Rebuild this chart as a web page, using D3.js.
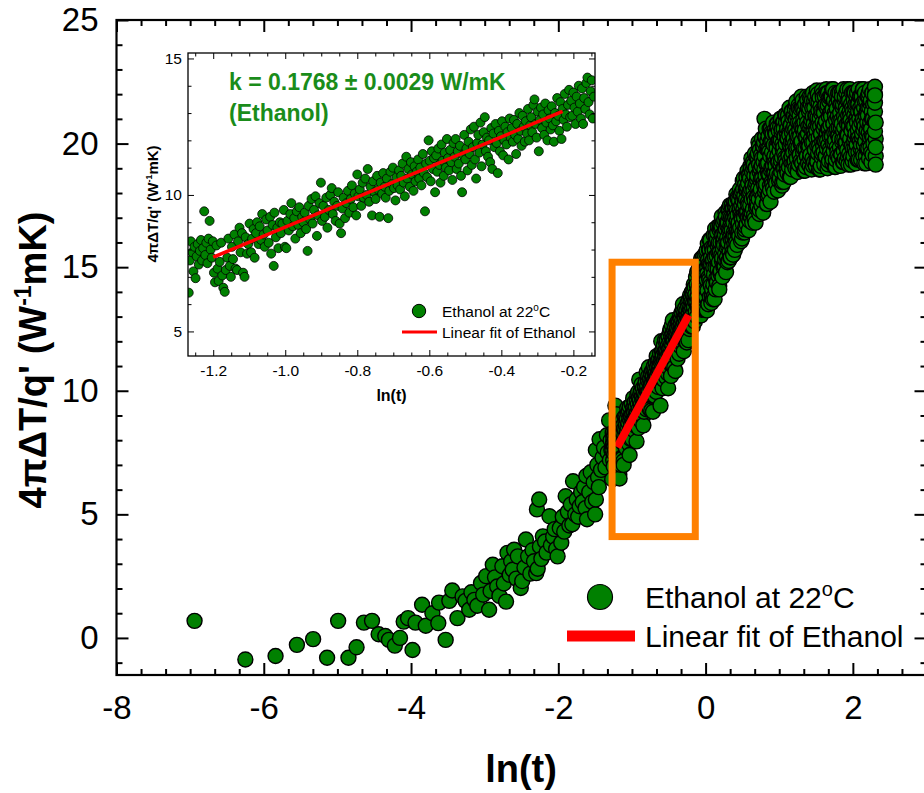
<!DOCTYPE html>
<html>
<head>
<meta charset="utf-8">
<script src="https://cdn.jsdelivr.net/npm/d3@7"></script>
<style>
  body { margin: 0; background: #fff; }
  svg { display: block; font-family: "Liberation Sans", Arial, sans-serif; }
</style>
</head>
<body>
<div id="chart"></div>
<script>
// ln(t) vs 4*pi*dT/q' for ethanol at 22 C
const earlyPts = [
  [-6.94,0.69],[-6.25,-0.87],[-5.84,-0.73],[-5.55,-0.28],[-5.33,-0.05],[-5.14,-0.8],[-4.99,0.69],[-4.85,-0.8],
  [-4.74,-0.38],[-4.64,0.62],[-4.53,0.69],[-4.44,0.15],[-4.35,0.08],[-4.3,-0.08],[-4.22,-0.31],[-4.15,0.0],
  [-4.1,0.66],[-4.04,0.8],[-3.98,-0.49],[-3.94,0.62],[-3.85,1.34],[-3.8,0.49],[-3.71,1.0],[-3.63,0.6],
  [-3.62,1.43],[-3.53,-0.08],[-3.48,1.5],[-3.44,1.92],[-3.37,0.8],[-3.3,1.68],[-3.26,1.5],[-3.21,1.14],
  [-3.18,1.85],[-3.14,1.54],[-3.1,1.3],[-3.05,2.22],[-3.02,1.75],[-2.98,2.5],[-2.94,1.14],[-2.92,1.9],
  [-2.89,2.96],[-2.86,2.45],[-2.83,2.08],[-2.8,1.7],[-2.76,2.9],[-2.74,2.2],[-2.71,1.47],[-2.69,3.44],
  [-2.66,2.55],[-2.64,3.1],[-2.62,2.76],[-2.6,3.57],[-2.57,2.4],[-2.55,3.3],[-2.51,2.02],[-2.49,2.3],
  [-2.46,2.85],[-2.44,3.98],[-2.41,3.3],[-2.38,2.6],[-2.35,3.55],[-2.33,3.1],[-2.3,2.62],[-2.29,5.2],
  [-2.28,2.8],[-2.26,5.6],[-2.25,3.7],[-2.23,3.2],[-2.21,4.11],[-2.18,3.9],[-2.16,3.45],[-2.12,4.92],
  [-2.1,3.75],[-2.07,4.1],[-2.05,4.4],[-2.03,3.6],[-2.01,3.3],[-1.98,4.45],[-1.96,3.85],[-1.94,4.9],
  [-1.92,4.3],[-1.9,5.73],[-1.87,5.1],[-1.85,4.55],[-1.83,5.4],[-1.81,4.6],[-1.8,6.34],[-1.77,5.0],
  [-1.75,5.6],[-1.73,4.9],[-1.71,5.33],[-1.69,5.9],[-1.67,5.5],[-1.65,6.1],[-1.63,5.25],[-1.62,6.55],
  [-1.61,4.8],[-1.58,5.9],[-1.56,6.7],[-1.54,5.5],[-1.52,6.3],[-1.5,5.0],[-1.49,5.6],[-1.49,7.6],
  [-1.47,7.0],[-1.46,6.5],[-1.45,6.1],[-1.44,8.04],[-1.42,6.8],[-1.4,7.3],[-1.38,7.7],[-1.36,6.9],
  [-1.34,8.2],[-1.33,7.5],[-1.31,8.8],[-1.3,7.2],[-1.29,8.0],[-1.28,7.6]
];

// the fitted window (also the inset)
const fitRangePts = [
  [-1.268,6.42],[-1.265,7.6],[-1.262,8.3],[-1.258,7.9],[-1.255,7.2],[-1.252,8.1],[-1.249,6.95],[-1.246,7.75],
  [-1.243,8.2],[-1.24,7.45],[-1.237,7.95],[-1.234,8.35],[-1.231,7.6],[-1.228,8.05],[-1.225,9.4],[-1.222,7.8],
  [-1.219,8.25],[-1.216,7.5],[-1.213,8.4],[-1.21,9.05],[-1.207,8.0],[-1.204,7.7],[-1.201,8.3],
  [-1.198,7.15],[-1.195,6.8],[-1.191,8.15],[-1.188,7.3],[-1.185,6.85],[-1.182,7.55],[-1.178,8.25],[-1.175,7.05],
  [-1.172,6.6],[-1.168,6.45],[-1.165,7.25],[-1.161,7.7],[-1.158,8.4],[-1.154,7.4],[-1.151,7.0],
  [-1.148,8.1],[-1.145,7.65],[-1.141,8.55],[-1.138,7.3],[-1.134,7.25],[-1.131,8.3],[-1.127,8.8],[-1.124,7.9],
  [-1.12,8.6],[-1.117,7.15],[-1.113,7.0],[-1.11,8.45],[-1.106,7.85],[-1.103,8.2],
  [-1.099,8.95],[-1.095,7.9],[-1.092,8.4],[-1.088,8.75],[-1.085,7.7],[-1.081,8.6],[-1.078,9.0],[-1.074,8.2],
  [-1.071,8.85],[-1.067,8.35],[-1.064,9.3],[-1.06,8.55],[-1.057,8.1],[-1.053,9.1],
  [-1.049,8.7],[-1.046,8.25],[-1.042,9.2],[-1.039,7.85],[-1.035,8.9],[-1.032,7.4],[-1.03,9.35],[-1.026,8.45],
  [-1.022,8.8],[-1.019,8.05],[-1.015,9.0],[-1.012,8.6],[-1.008,8.95],[-1.004,9.45],[-1.001,8.1],
  [-0.997,8.05],[-0.994,9.05],[-0.99,8.7],[-0.986,9.3],[-0.983,9.7],[-0.979,8.85],[-0.975,9.15],[-0.972,8.4],
  [-0.968,9.4],[-0.964,8.9],[-0.961,9.55],[-0.957,8.6],[-0.953,9.2],[-0.95,9.0],
  [-0.946,9.35],[-0.942,8.75],[-0.938,7.95],[-0.935,9.6],[-0.931,9.1],[-0.927,9.85],[-0.924,8.95],[-0.92,9.45],
  [-0.916,9.95],[-0.912,8.5],[-0.909,9.25],[-0.905,9.7],[-0.901,10.45],[-0.898,9.05],
  [-0.894,9.6],[-0.89,9.2],[-0.886,9.9],[-0.883,8.8],[-0.879,9.45],[-0.875,10.0],[-0.871,10.25],[-0.868,9.3],
  [-0.864,9.75],[-0.86,9.05],[-0.856,9.6],[-0.853,10.1],[-0.849,8.95],[-0.845,8.6],[-0.841,9.5],
  [-0.838,9.9],[-0.834,9.15],[-0.83,9.7],[-0.826,10.15],[-0.822,9.35],[-0.818,9.85],[-0.815,10.35],[-0.811,9.55],
  [-0.807,10.05],[-0.803,9.25],[-0.8,10.75],[-0.797,9.95],
  [-0.793,10.2],[-0.789,9.6],[-0.785,10.45],[-0.782,9.9],[-0.778,10.6],[-0.774,10.0],[-0.771,10.95],[-0.767,9.75],
  [-0.763,10.3],[-0.759,9.25],[-0.756,10.5],[-0.752,10.1],[-0.749,9.85],[-0.745,10.7],[-0.742,10.2],
  [-0.738,9.2],[-0.735,10.45],[-0.731,10.05],[-0.728,10.8],[-0.724,10.3],[-0.721,9.9],[-0.718,10.6],[-0.714,9.15],
  [-0.711,10.15],[-0.708,10.85],[-0.704,10.4],[-0.701,11.0],[-0.698,10.25],[-0.694,9.8],[-0.691,10.65],[-0.688,10.35],
  [-0.684,10.9],[-0.681,10.2],[-0.678,10.7],[-0.674,11.15],[-0.671,10.45],[-0.668,9.95],[-0.664,11.4],[-0.661,10.6],
  [-0.658,10.95],[-0.654,10.3],[-0.651,11.2],[-0.648,10.75],[-0.644,10.15],[-0.641,11.05],[-0.638,10.5],[-0.635,10.85],
  [-0.631,11.3],[-0.628,10.6],[-0.625,11.0],[-0.622,10.35],[-0.618,11.5],[-0.615,10.8],[-0.612,9.4],[-0.609,11.15],
  [-0.606,10.65],[-0.602,12.0],[-0.599,11.25],[-0.596,10.5],[-0.593,11.6],[-0.59,10.95],[-0.587,11.35],[-0.584,10.1],
  [-0.581,11.45],[-0.578,10.85],[-0.575,11.7],[-0.572,11.1],[-0.569,10.45],[-0.566,11.85],[-0.563,11.25],[-0.56,10.7],
  [-0.557,11.55],[-0.554,11.0],[-0.551,12.05],[-0.548,11.35],[-0.545,10.9],[-0.542,11.65],[-0.539,11.2],[-0.536,10.55],
  [-0.533,11.9],
  [-0.53,11.4],[-0.527,12.05],[-0.524,10.95],[-0.521,11.6],[-0.518,11.15],[-0.515,11.8],[-0.512,10.7],[-0.509,10.1],
  [-0.506,11.45],[-0.503,12.2],[-0.5,11.3],[-0.497,11.7],[-0.494,10.9],[-0.491,11.95],[-0.488,11.5],[-0.485,12.4],
  [-0.482,11.1],
  [-0.479,11.75],[-0.476,12.5],[-0.473,11.3],[-0.47,10.6],[-0.467,11.9],[-0.464,12.2],[-0.461,11.55],[-0.458,12.65],
  [-0.455,11.05],[-0.452,11.85],[-0.449,12.3],[-0.446,12.85],[-0.443,11.6],[-0.44,12.1],[-0.437,11.4],[-0.434,12.0],
  [-0.431,11.2],[-0.428,12.45],
  [-0.425,10.95],[-0.422,12.25],[-0.419,11.75],[-0.416,12.6],[-0.413,11.9],[-0.41,10.8],[-0.407,12.35],[-0.404,11.6],
  [-0.401,12.15],[-0.398,12.7],[-0.395,11.45],[-0.392,12.0],[-0.389,12.5],[-0.386,11.85],[-0.383,12.3],[-0.38,11.3],
  [-0.377,12.8],[-0.374,12.1],
  [-0.371,12.45],[-0.368,11.95],[-0.365,12.75],[-0.362,12.2],[-0.359,11.5],[-0.356,12.6],[-0.353,12.05],[-0.35,13.0],
  [-0.347,12.35],[-0.344,11.8],[-0.341,12.9],[-0.338,12.5],[-0.335,11.95],[-0.332,12.7],[-0.329,12.25],[-0.326,13.15],
  [-0.323,12.0],[-0.32,12.55],
  [-0.317,12.85],[-0.314,12.3],[-0.311,13.3],[-0.308,13.5],[-0.305,12.6],[-0.302,12.1],[-0.299,13.05],[-0.296,11.6],
  [-0.293,12.75],[-0.29,13.2],[-0.287,12.45],[-0.284,12.95],[-0.281,12.2],[-0.278,13.35],[-0.275,12.65],[-0.272,12.0],
  [-0.269,13.1],[-0.266,12.8],[-0.263,12.4],
  [-0.26,13.25],[-0.257,12.55],[-0.254,11.95],[-0.251,13.0],[-0.248,12.7],[-0.245,13.55],[-0.242,12.9],[-0.239,12.35],
  [-0.236,13.4],[-0.233,12.05],[-0.23,13.15],[-0.227,12.75],[-0.224,13.7],[-0.221,12.95],[-0.218,12.5],[-0.215,13.3],
  [-0.212,13.85],[-0.209,12.85],
  [-0.206,13.45],[-0.203,12.9],[-0.2,13.75],[-0.197,13.2],[-0.194,12.6],[-0.191,13.6],[-0.188,13.05],[-0.185,14.0],
  [-0.182,13.35],[-0.179,12.8],[-0.176,13.9],[-0.173,12.6],[-0.17,13.55],[-0.167,13.15],[-0.164,14.1],[-0.161,14.3],
  [-0.158,13.4],[-0.155,12.95],[-0.152,13.8],[-0.149,14.2],[-0.146,12.8],[-0.143,13.6]
];

const risePts = [
  [-0.138,13.9],[-0.134,13.2],[-0.13,14.6],[-0.126,13.6],[-0.122,14.3],[-0.118,13.0],[-0.114,14.8],[-0.11,13.8],
  [-0.106,13.4],[-0.102,14.1],
  [-0.098,14.9],[-0.094,13.3],[-0.09,14.3],[-0.086,13.7],[-0.082,15.1],[-0.078,14.0],[-0.074,14.5],[-0.07,13.5],
  [-0.066,14.8],[-0.062,13.05],[-0.058,15.35],[-0.054,14.2],
  [-0.05,14.0],[-0.046,14.9],[-0.042,13.5],[-0.038,15.4],[-0.034,14.4],[-0.03,13.3],[-0.026,15.15],[-0.022,14.65],
  [-0.018,13.8],[-0.014,15.5],[-0.01,14.15],[-0.006,13.4],[-0.002,14.9],
  [0.002,14.7],[0.006,13.8],[0.01,15.55],[0.014,14.5],[0.018,13.25],[0.022,15.0],[0.026,14.05],[0.03,15.95],
  [0.034,15.3],[0.038,13.5],[0.042,14.6],[0.046,15.7],
  [0.05,14.5],[0.054,15.7],[0.058,13.8],[0.062,15.1],[0.066,16.1],[0.07,14.25],[0.074,15.4],[0.078,13.55],
  [0.082,14.8],[0.086,15.8],[0.09,14.1],[0.094,15.25],[0.098,13.7],
  [0.102,15.3],[0.106,14.3],[0.11,16.3],[0.114,14.7],[0.118,15.85],[0.122,13.7],[0.126,15.4],[0.13,16.55],
  [0.134,15.0],[0.138,14.1],[0.142,16.0],[0.146,14.55],
  [0.15,15.45],[0.154,14.4],[0.158,16.4],[0.162,15.05],[0.166,15.85],[0.17,16.65],[0.174,14.65],[0.178,16.0],
  [0.182,15.2],[0.186,14.1],[0.19,16.5],[0.194,15.6],[0.198,14.8],
  [0.202,16.0],[0.206,14.85],[0.21,16.55],[0.214,15.5],[0.218,17.05],[0.222,15.25],[0.226,16.3],[0.23,14.6],
  [0.234,15.75],[0.238,16.8],[0.242,15.0],[0.246,16.15],
  [0.25,15.9],[0.254,16.9],[0.258,15.05],[0.262,16.3],[0.266,15.55],[0.27,17.2],[0.274,16.55],[0.278,14.8],
  [0.282,16.05],[0.286,16.8],[0.29,15.4],[0.294,16.2],[0.298,15.2],
  [0.302,16.8],[0.306,16.0],[0.31,17.3],[0.314,15.25],[0.318,16.45],[0.322,17.05],[0.326,15.6],[0.33,17.5],
  [0.334,16.2],[0.338,16.7],[0.342,15.4],[0.346,16.1],
  [0.35,16.6],[0.354,17.5],[0.358,15.85],[0.362,16.95],[0.366,16.15],[0.37,17.4],[0.374,15.5],[0.378,16.8],
  [0.382,16.4],[0.386,17.6],[0.39,15.95],[0.394,17.15],[0.398,15.7],
  [0.402,17.0],[0.406,16.25],[0.41,17.65],[0.414,16.65],[0.418,17.95],[0.422,16.45],[0.426,17.3],[0.43,15.9],
  [0.434,17.1],[0.438,17.75],[0.442,16.35],[0.446,16.75],
  [0.45,16.8],[0.454,17.7],[0.458,16.25],[0.462,17.35],[0.466,18.15],[0.47,16.6],[0.474,17.15],[0.478,17.95],
  [0.482,16.05],[0.486,17.5],[0.49,16.95],[0.494,18.05],[0.498,16.4],
  [0.502,17.7],[0.506,16.75],[0.51,18.15],[0.514,17.35],[0.518,18.6],[0.522,17.0],[0.526,17.9],[0.53,16.4],
  [0.534,17.55],[0.538,18.35],[0.542,16.65],[0.546,17.2],
  [0.55,17.75],[0.554,18.65],[0.558,16.75],[0.562,18.1],[0.566,17.25],[0.57,18.9],[0.574,17.0],[0.578,18.4],
  [0.582,17.5],[0.586,16.5],[0.59,18.0],[0.594,18.75],[0.598,17.1],
  [0.602,18.6],[0.606,17.5],[0.61,19.1],[0.614,17.05],[0.618,18.15],[0.622,19.4],[0.626,17.75],[0.63,18.85],
  [0.634,16.8],[0.638,18.3],[0.642,17.35],[0.646,19.0],
  [0.65,18.1],[0.654,19.15],[0.658,17.1],[0.662,18.7],[0.666,17.7],[0.67,19.6],[0.674,18.3],[0.678,16.8],
  [0.682,19.0],[0.686,17.4],[0.69,19.45],[0.694,17.85],[0.698,18.55],
  [0.702,18.7],[0.706,17.45],[0.71,19.6],[0.714,18.2],[0.718,20.05],[0.722,17.75],[0.726,19.15],[0.73,17.15],
  [0.734,18.85],[0.738,19.75],[0.742,18.05],[0.746,18.5],
  [0.75,18.15],[0.754,19.55],[0.758,17.5],[0.762,19.1],[0.766,20.2],[0.77,18.6],[0.774,17.85],[0.778,19.9],
  [0.782,17.2],[0.786,19.25],[0.79,18.45],[0.794,20.05],[0.798,18.95],[0.8,21.0],
  [0.802,19.5],[0.806,18.05],[0.81,20.3],[0.814,18.7],[0.818,20.6],[0.822,18.35],[0.826,19.8],[0.83,17.55],
  [0.834,19.15],[0.838,20.1],[0.842,17.9],[0.846,18.85],
  [0.85,19.2],[0.854,20.3],[0.858,17.95],[0.862,19.8],[0.866,18.75],[0.87,20.6],[0.874,18.3],[0.878,19.5],
  [0.882,17.65],[0.886,20.1],[0.89,18.9],[0.894,20.45],[0.898,18.45],
  [0.902,19.65],[0.906,18.35],[0.91,20.4],[0.914,19.1],[0.918,20.85],[0.922,18.8],[0.926,19.95],[0.93,18.05],
  [0.934,19.5],[0.938,20.55],[0.942,18.5],[0.946,19.25],
  [0.95,19.1],[0.954,20.4],[0.958,18.4],[0.962,19.95],[0.966,20.8],[0.97,18.8],[0.974,19.5],[0.978,20.65],
  [0.982,18.1],[0.986,20.1],[0.99,19.25],[0.994,20.5],[0.998,18.5]
];

// second pass of readings through the steep part
const risePts2 = [
  [-0.095,13.63],[-0.085,14.78],[-0.075,14.09],[-0.065,15.24],[-0.055,13.28],
  [-0.045,14.65],[-0.035,13.65],[-0.025,15.28],[-0.015,14.15],[-0.005,13.28],
  [0.005,14.06],[0.015,15.68],[0.025,14.74],[0.035,13.52],[0.045,15.14],
  [0.055,16.11],[0.065,14.4],[0.075,15.11],[0.085,13.83],[0.095,15.68],
  [0.105,14.98],[0.115,13.84],[0.125,15.7],[0.135,16.27],[0.145,14.41],
  [0.155,16.13],[0.165,14.91],[0.175,15.59],[0.185,14.24],[0.195,16.67],
  [0.205,14.71],[0.215,16.66],[0.225,15.36],[0.235,16.01],[0.245,15.1],
  [0.255,16.43],[0.265,15.3],[0.275,17.05],[0.285,15.8],[0.295,16.68],
  [0.305,15.86],[0.315,17.38],[0.325,16.56],[0.335,15.39],[0.345,17.03],
  [0.355,16.49],[0.365,15.61],[0.375,17.04],[0.385,16.27],[0.395,17.48],
  [0.405,17.41],[0.415,16.02],[0.425,16.88],[0.435,17.84],[0.445,16.45],
  [0.455,16.49],[0.465,17.37],[0.475,17.92],[0.485,17.04],[0.495,16.16],
  [0.505,18.49],[0.515,17.11],[0.525,17.8],[0.535,16.53],[0.545,18.14],
  [0.555,17.13],[0.565,18.25],[0.575,17.63],[0.585,18.75],[0.595,16.88],
  [0.605,18.03],[0.615,18.99],[0.625,17.2],[0.635,18.44],[0.645,19.26],
  [0.655,17.83],[0.665,16.95],[0.675,19.01],[0.685,18.42],[0.695,17.54],
  [0.705,19.44],[0.715,17.92],[0.725,19.9],[0.735,17.31],[0.745,18.98],
  [0.755,18.62],[0.765,19.41],[0.775,17.67],[0.785,19.88],[0.795,18.3],
  [0.805,20.28],[0.815,18.2],[0.825,19.16],[0.835,17.56],[0.845,19.8],
  [0.855,18.74],[0.865,19.67],[0.875,18.12],[0.885,20.6],[0.895,19.05],
  [0.905,20.11],[0.915,18.2],[0.925,19.38],[0.935,18.79],[0.945,20.41],
  [0.955,18.67],[0.965,19.81],[0.975,20.81],[0.985,19.24],[0.995,20.1]
];

const plateauPts = [
  [1.004,19.7],[1.008,18.6],[1.012,20.7],[1.016,19.15],[1.02,20.15],[1.024,21.0],[1.028,18.85],[1.032,20.45],
  [1.036,19.45],[1.04,18.3],[1.044,20.0],[1.048,20.85],[1.052,19.0],[1.056,19.85],[1.06,20.6],[1.064,18.45],
  [1.068,19.6],[1.072,20.3],[1.076,18.75],[1.08,21.15],[1.084,19.3],[1.088,20.0],[1.092,20.85],[1.096,19.15],[1.1,20.45],
  [1.104,19.2],[1.108,20.6],[1.112,18.8],[1.116,20.2],[1.12,21.15],[1.124,19.6],[1.128,20.9],[1.132,19.05],
  [1.136,20.35],[1.14,21.45],[1.144,19.9],[1.148,19.35],[1.152,20.75],[1.156,18.65],[1.16,20.05],[1.164,21.3],
  [1.168,19.5],[1.172,20.45],[1.176,18.95],[1.18,21.05],[1.184,19.8],[1.188,20.6],[1.192,19.2],[1.196,20.2],[1.2,21.15],
  [1.204,20.7],[1.208,19.3],[1.212,21.4],[1.216,20.0],[1.22,19.0],[1.224,21.0],[1.228,19.7],[1.232,21.7],
  [1.236,20.4],[1.24,19.4],[1.244,21.3],[1.248,20.15],[1.252,18.85],[1.256,20.85],[1.26,19.85],[1.264,21.55],
  [1.268,19.15],[1.272,20.55],[1.276,21.15],[1.28,19.55],[1.284,20.3],[1.288,21.4],[1.292,19.3],[1.296,20.7],[1.3,20.0],
  [1.304,20.1],[1.308,21.45],[1.312,19.2],[1.316,20.7],[1.32,21.75],[1.324,19.65],[1.328,21.0],[1.332,18.9],
  [1.336,20.4],[1.34,21.3],[1.344,19.35],[1.348,20.55],[1.352,21.6],[1.356,19.8],[1.36,21.15],[1.364,19.05],
  [1.368,20.25],[1.372,21.9],[1.376,19.5],[1.38,20.85],[1.384,19.95],[1.388,21.45],[1.392,19.2],[1.396,20.7],[1.4,19.8],
  [1.404,21.3],[1.408,19.9],[1.412,21.9],[1.416,19.1],[1.42,20.65],[1.424,19.55],[1.428,21.6],[1.432,20.2],
  [1.436,20.95],[1.44,18.95],[1.444,21.75],[1.448,20.5],[1.452,19.4],[1.456,21.1],[1.46,22.05],[1.464,20.05],
  [1.468,20.8],[1.472,19.25],[1.476,21.45],[1.48,20.35],[1.484,19.75],[1.488,21.9],[1.492,20.65],[1.496,19.1],[1.5,21.1],
  [1.504,20.55],[1.508,19.3],[1.512,21.7],[1.516,19.9],[1.52,21.05],[1.524,22.0],[1.528,19.6],[1.532,21.35],
  [1.536,20.25],[1.54,18.95],[1.544,20.85],[1.548,21.85],[1.552,19.75],[1.556,20.7],[1.56,21.5],[1.564,19.1],
  [1.568,20.4],[1.572,21.2],[1.576,19.45],[1.58,22.15],[1.584,20.05],[1.588,20.85],[1.592,21.85],[1.596,19.9],[1.6,21.35],
  [1.604,19.65],[1.608,21.25],[1.612,19.15],[1.616,20.75],[1.62,21.9],[1.624,20.1],[1.628,21.55],[1.632,19.5],
  [1.636,20.9],[1.64,22.2],[1.644,20.45],[1.648,19.8],[1.652,21.4],[1.656,19.0],[1.66,20.6],[1.664,22.05],
  [1.668,19.95],[1.672,21.1],[1.676,19.3],[1.68,21.7],[1.684,20.3],[1.688,21.25],[1.692,19.65],[1.696,20.75],[1.7,21.9],
  [1.704,21.1],[1.708,19.5],[1.712,21.9],[1.716,20.3],[1.72,19.2],[1.724,21.4],[1.728,20.0],[1.732,22.2],
  [1.736,20.8],[1.74,19.7],[1.744,21.75],[1.748,20.45],[1.752,19.05],[1.756,21.25],[1.76,20.15],[1.764,22.05],
  [1.768,19.35],[1.772,20.95],[1.776,21.6],[1.78,19.85],[1.784,20.6],[1.788,21.9],[1.792,19.5],[1.796,21.1],[1.8,20.3],
  [1.804,20.35],[1.808,21.75],[1.812,19.4],[1.816,20.95],[1.82,22.05],[1.824,19.85],[1.828,21.25],[1.832,19.1],
  [1.836,20.65],[1.84,21.6],[1.844,19.55],[1.848,20.8],[1.852,21.9],[1.856,20.05],[1.86,21.45],[1.864,19.25],
  [1.868,20.5],[1.872,22.2],[1.876,19.7],[1.88,21.1],[1.884,20.2],[1.888,21.75],[1.892,19.4],[1.896,20.95],[1.9,20.05],
  [1.904,21.45],[1.908,20.05],[1.912,22.05],[1.916,19.3],[1.92,20.8],[1.924,19.75],[1.928,21.75],[1.932,20.35],
  [1.936,21.15],[1.94,19.15],[1.944,21.9],[1.948,20.7],[1.952,19.6],[1.956,21.3],[1.96,22.2],[1.964,20.2],
  [1.968,20.95],[1.972,19.45],[1.976,21.6],[1.98,20.55],[1.984,19.9],[1.988,22.05],[1.992,20.8],[1.996,19.3],[2.0,21.3],
  [2.004,20.7],[2.008,19.5],[2.012,21.75],[2.016,20.1],[2.02,21.15],[2.024,22.05],[2.028,19.8],[2.032,21.45],
  [2.036,20.4],[2.04,19.2],[2.044,21.0],[2.048,21.9],[2.052,19.95],[2.056,20.85],[2.06,21.6],[2.064,19.35],
  [2.068,20.55],[2.072,21.3],[2.076,19.65],[2.08,22.2],[2.084,20.25],[2.088,21.0],[2.092,21.9],[2.096,20.1],[2.1,21.45],
  [2.104,19.8],[2.108,21.3],[2.112,19.35],[2.116,20.85],[2.12,21.9],[2.124,20.25],[2.128,21.6],[2.132,19.65],
  [2.136,21.0],[2.14,22.2],[2.144,20.55],[2.148,19.95],[2.152,21.45],[2.156,19.2],[2.16,20.7],[2.164,22.05],
  [2.168,20.1],[2.172,21.15],[2.176,19.5],[2.18,21.75],[2.184,20.4],[2.188,21.3],[2.192,19.8],[2.196,20.85],[2.2,21.9],
  [2.204,21.15],[2.208,19.7],[2.212,21.9],[2.216,20.45],[2.22,19.4],[2.224,21.45],[2.228,20.15],[2.232,22.2],
  [2.236,20.85],[2.24,19.85],[2.244,21.75],[2.248,20.6],[2.252,19.25],[2.256,21.3],[2.26,20.3],[2.264,22.05],
  [2.268,19.55],[2.272,21.0],[2.276,21.6],[2.28,20.0]
];

// second pass of readings across the plateau
const plateauPts2 = [
  [1.002,18.73],[1.01,20.01],[1.018,21.01],[1.026,19.3],[1.034,20.58],[1.042,18.44],[1.05,19.73],[1.058,20.87],
  [1.066,19.01],[1.074,20.3],[1.082,19.44],[1.09,21.15],
  [1.102,18.93],[1.11,20.19],[1.118,21.03],[1.126,19.49],[1.134,20.47],[1.142,18.65],[1.15,19.91],[1.158,20.75],
  [1.166,19.21],[1.174,21.31],[1.182,20.05],[1.19,19.63],
  [1.202,21.13],[1.21,19.28],[1.218,20.56],[1.226,21.56],[1.234,19.85],[1.242,21.13],[1.25,18.99],[1.258,20.28],
  [1.266,21.42],[1.274,19.56],[1.282,20.85],[1.29,19.99],
  [1.302,21.9],[1.31,19.2],[1.318,20.55],[1.326,21.45],[1.334,19.8],[1.342,20.85],[1.35,18.9],[1.358,20.25],
  [1.366,21.15],[1.374,19.5],[1.382,21.75],[1.39,20.4],
  [1.402,20.04],[1.41,21.43],[1.418,19.42],[1.426,20.81],[1.434,21.9],[1.442,20.04],[1.45,21.43],[1.458,19.11],
  [1.466,20.5],[1.474,21.74],[1.482,19.73],[1.49,21.12],
  [1.502,20.23],[1.51,22.15],[1.518,19.27],[1.526,20.71],[1.534,21.67],[1.542,19.91],[1.55,21.03],[1.558,18.95],
  [1.566,20.39],[1.574,21.35],[1.582,19.59],[1.59,21.99],
  [1.602,20.6],[1.61,20.12],[1.618,21.56],[1.626,19.48],[1.634,20.92],[1.642,22.04],[1.65,20.12],[1.658,21.56],
  [1.666,19.16],[1.674,20.6],[1.682,21.88],[1.69,19.8],
  [1.702,21.26],[1.71,20.31],[1.718,22.2],[1.726,19.37],[1.734,20.78],[1.742,21.73],[1.75,19.99],[1.758,21.1],
  [1.766,19.05],[1.774,20.47],[1.782,21.41],[1.79,19.68],
  [1.802,22.05],[1.81,20.65],[1.818,20.19],[1.826,21.58],[1.834,19.57],[1.842,20.96],[1.85,22.05],[1.858,20.19],
  [1.866,21.58],[1.874,19.26],[1.882,20.65],[1.89,21.89],
  [1.902,19.91],[1.91,21.29],[1.918,20.37],[1.926,22.2],[1.934,19.46],[1.942,20.83],[1.95,21.74],[1.958,20.07],
  [1.966,21.13],[1.974,19.15],[1.982,20.52],[1.99,21.44],
  [2.002,19.8],[2.01,22.05],[2.018,20.7],[2.026,20.25],[2.034,21.6],[2.042,19.65],[2.05,21.0],[2.058,22.05],
  [2.066,20.25],[2.074,21.6],[2.082,19.35],[2.09,20.7],
  [2.102,21.9],[2.11,19.95],[2.118,21.3],[2.126,20.4],[2.134,22.2],[2.142,19.5],[2.15,20.85],[2.158,21.75],
  [2.166,20.1],[2.174,21.15],[2.182,19.2],[2.19,20.55],
  [2.202,21.45],[2.21,19.8],[2.218,22.05],[2.226,20.7],[2.234,20.25],[2.242,21.6],[2.25,19.65],[2.258,21.0],
  [2.266,22.05],[2.274,20.25]
];

// last readings, stacked at the end of the run
const endPts = [
  [2.3,20.9],[2.3,22.0],[2.31,19.5],[2.3,21.3],[2.31,20.2],[2.3,22.3],[2.31,19.15],[2.3,21.65],
  [2.3,20.5],[2.31,19.85],[2.3,21.95],[2.31,20.85]
];

const fitLine = [[-1.2, 7.72], [-0.23, 13.06]];

const xTicks = [-8, -6, -4, -2, 0, 2];
const yTicks = [0, 5, 10, 15, 20, 25];
const insetXTicks = [-1.2, -1.0, -0.8, -0.6, -0.4, -0.2];
const insetYTicks = [5, 10, 15];
const seriesName = "Ethanol at 22";
const fitName = "Linear fit of Ethanol";
const kLabel = "k = 0.1768 \u00b1 0.0029 W/mK";
const kSub = "(Ethanol)";

const allPts = d3.sort(
  earlyPts.concat(fitRangePts, risePts, risePts2, plateauPts, plateauPts2),
  d => d[0]
).concat(endPts);

function styleTicks(g, w) {
  g.select(".domain").remove();
  g.selectAll("line").attr("stroke", "#000").attr("stroke-width", w);
}

function drawChart() {
  const width = 924, height = 793;
  const svg = d3.select("#chart").append("svg")
    .attr("width", width)
    .attr("height", height);

  const x = d3.scaleLinear().domain([-8, 3]).range([116.5, 926.5]);
  const y = d3.scaleLinear().domain([-1.5, 25]).range([675, 20]);

  const xMinor = d3.range(-8, 3.001, 1 / 3).filter(v => Math.abs(v / 2 - Math.round(v / 2)) > 0.01);
  const yMinor = d3.range(-1, 25.001, 1).filter(v => v % 5 !== 0);

  // main axes, ticks inward on all sides
  const bottom = svg.append("g").attr("transform", "translate(0,675)")
    .call(d3.axisBottom(x).tickValues(xTicks).tickSize(-12).tickPadding(21).tickFormat(d => String(d)));
  styleTicks(bottom, 2);
  bottom.selectAll("text").attr("fill", "#000").style("font-size", "33px");
  styleTicks(svg.append("g").attr("transform", "translate(0,675)")
    .call(d3.axisBottom(x).tickValues(xMinor).tickSize(-6).tickFormat("")), 2);

  styleTicks(svg.append("g").attr("transform", "translate(0,20)")
    .call(d3.axisTop(x).tickValues(xTicks).tickSize(-12).tickFormat("")), 2);
  styleTicks(svg.append("g").attr("transform", "translate(0,20)")
    .call(d3.axisTop(x).tickValues(xMinor).tickSize(-6).tickFormat("")), 2);

  const left = svg.append("g").attr("transform", "translate(116.5,0)")
    .call(d3.axisLeft(y).tickValues(yTicks).tickSize(-12).tickPadding(18).tickFormat(d => String(d)));
  styleTicks(left, 2);
  left.selectAll("text").attr("fill", "#000").style("font-size", "33px");
  styleTicks(svg.append("g").attr("transform", "translate(116.5,0)")
    .call(d3.axisLeft(y).tickValues(yMinor).tickSize(-6).tickFormat("")), 2);

  styleTicks(svg.append("g").attr("transform", "translate(926.5,0)")
    .call(d3.axisRight(y).tickValues(yTicks).tickSize(-12).tickFormat("")), 2);
  styleTicks(svg.append("g").attr("transform", "translate(926.5,0)")
    .call(d3.axisRight(y).tickValues(yMinor).tickSize(-6).tickFormat("")), 2);

  svg.append("rect")
    .attr("x", x(-8)).attr("y", y(25))
    .attr("width", x(3) - x(-8)).attr("height", y(-1.5) - y(25))
    .attr("fill", "none").attr("stroke", "#000").attr("stroke-width", 2.2);

  // axis titles
  svg.append("text")
    .attr("x", 521).attr("y", 782)
    .attr("text-anchor", "middle")
    .style("font-size", "38px").style("font-weight", "bold")
    .text("ln(t)");

  const yTitle = svg.append("text")
    .attr("transform", "translate(46,360) rotate(-90)")
    .attr("text-anchor", "middle")
    .style("font-size", "38px").style("font-weight", "bold");
  yTitle.append("tspan").text("4\u03c0\u0394T/q' (W");
  yTitle.append("tspan").attr("dy", -15).style("font-size", "23px").text("-1");
  yTitle.append("tspan").attr("dy", 15).text("mK)");

  // main scatter
  svg.append("g")
    .selectAll("circle")
    .data(allPts)
    .join("circle")
    .attr("cx", d => x(d[0]))
    .attr("cy", d => y(d[1]))
    .attr("r", 7.5)
    .attr("fill", "#008000")
    .attr("stroke", "#000")
    .attr("stroke-width", 1.4);

  svg.append("line")
    .attr("x1", x(fitLine[0][0])).attr("y1", y(fitLine[0][1]))
    .attr("x2", x(fitLine[1][0])).attr("y2", y(fitLine[1][1]))
    .attr("stroke", "#ff0000").attr("stroke-width", 8);

  // inset domain, marked by the orange box
  const ix = d3.scaleLinear().domain([-1.27, -0.14]).range([188, 595]);
  const iy = d3.scaleLinear().domain([4.1, 15.2]).range([356, 53]);

  svg.append("rect")
    .attr("x", x(ix.domain()[0])).attr("y", y(iy.domain()[1]))
    .attr("width", x(ix.domain()[1]) - x(ix.domain()[0]))
    .attr("height", y(iy.domain()[0]) - y(iy.domain()[1]))
    .attr("fill", "none").attr("stroke", "#ff8000").attr("stroke-width", 7);

  // main legend
  svg.append("circle").attr("cx", 600).attr("cy", 597).attr("r", 12.5)
    .attr("fill", "#008000").attr("stroke", "#000").attr("stroke-width", 1.2);
  const lg1 = svg.append("text").attr("x", 645).attr("y", 608).style("font-size", "30px");
  lg1.append("tspan").text(seriesName);
  lg1.append("tspan").attr("dy", -12).style("font-size", "20px").text("o");
  lg1.append("tspan").attr("dy", 12).text("C");
  svg.append("line").attr("x1", 567).attr("x2", 635).attr("y1", 636).attr("y2", 636)
    .attr("stroke", "#ff0000").attr("stroke-width", 11);
  svg.append("text").attr("x", 645).attr("y", 647).style("font-size", "30px").text(fitName);

  // ---- inset ----
  const inset = svg.append("g");
  inset.append("rect")
    .attr("x", 188).attr("y", 53).attr("width", 407).attr("height", 303)
    .attr("fill", "#fff");

  svg.append("defs").append("clipPath").attr("id", "insetClip")
    .append("rect").attr("x", 188).attr("y", 53).attr("width", 407).attr("height", 303);

  inset.append("g")
    .attr("clip-path", "url(#insetClip)")
    .selectAll("circle")
    .data(fitRangePts)
    .join("circle")
    .attr("cx", d => ix(d[0]))
    .attr("cy", d => iy(d[1]))
    .attr("r", 4.5)
    .attr("fill", "#008000")
    .attr("stroke", "#000")
    .attr("stroke-width", 0.8);

  inset.append("line")
    .attr("x1", ix(fitLine[0][0])).attr("y1", iy(fitLine[0][1]))
    .attr("x2", ix(fitLine[1][0])).attr("y2", iy(fitLine[1][1]))
    .attr("stroke", "#ff0000").attr("stroke-width", 3.5);

  const ixMinor = d3.range(-1.25, -0.14, 0.05).filter(v => Math.abs(v / 0.2 - Math.round(v / 0.2)) > 0.01);
  const iyMinor = d3.range(5, 15.01, 1).filter(v => v % 5 !== 0);

  const ib = inset.append("g").attr("transform", "translate(0,356)")
    .call(d3.axisBottom(ix).tickValues(insetXTicks).tickSize(-6).tickPadding(9).tickFormat(d => d.toFixed(1)));
  styleTicks(ib, 1);
  ib.selectAll("text").attr("fill", "#000").style("font-size", "15.5px");
  styleTicks(inset.append("g").attr("transform", "translate(0,356)")
    .call(d3.axisBottom(ix).tickValues(ixMinor).tickSize(-3.5).tickFormat("")), 1);
  styleTicks(inset.append("g").attr("transform", "translate(0,53)")
    .call(d3.axisTop(ix).tickValues(insetXTicks).tickSize(-6).tickFormat("")), 1);
  styleTicks(inset.append("g").attr("transform", "translate(0,53)")
    .call(d3.axisTop(ix).tickValues(ixMinor).tickSize(-3.5).tickFormat("")), 1);

  const il = inset.append("g").attr("transform", "translate(188,0)")
    .call(d3.axisLeft(iy).tickValues(insetYTicks).tickSize(-6).tickPadding(6).tickFormat(d => String(d)));
  styleTicks(il, 1);
  il.selectAll("text").attr("fill", "#000").style("font-size", "15.5px");
  styleTicks(inset.append("g").attr("transform", "translate(188,0)")
    .call(d3.axisLeft(iy).tickValues(iyMinor).tickSize(-3.5).tickFormat("")), 1);
  styleTicks(inset.append("g").attr("transform", "translate(595,0)")
    .call(d3.axisRight(iy).tickValues(insetYTicks).tickSize(-6).tickFormat("")), 1);
  styleTicks(inset.append("g").attr("transform", "translate(595,0)")
    .call(d3.axisRight(iy).tickValues(iyMinor).tickSize(-3.5).tickFormat("")), 1);

  inset.append("rect")
    .attr("x", 188).attr("y", 53).attr("width", 407).attr("height", 303)
    .attr("fill", "none").attr("stroke", "#000").attr("stroke-width", 1.3);

  inset.append("text")
    .attr("x", 391.5).attr("y", 401)
    .attr("text-anchor", "middle")
    .style("font-size", "16px").style("font-weight", "bold")
    .text("ln(t)");

  const iyTitle = inset.append("text")
    .attr("transform", "translate(158,204) rotate(-90)")
    .attr("text-anchor", "middle")
    .style("font-size", "15px").style("font-weight", "bold");
  iyTitle.append("tspan").text("4\u03c0\u0394T/q' (W");
  iyTitle.append("tspan").attr("dy", -6).style("font-size", "9px").text("-1");
  iyTitle.append("tspan").attr("dy", 6).text("mK)");

  inset.append("text")
    .attr("x", 229).attr("y", 90)
    .attr("fill", "#1a8c1a")
    .style("font-size", "23px").style("font-weight", "bold")
    .text(kLabel);
  inset.append("text")
    .attr("x", 229).attr("y", 121)
    .attr("fill", "#1a8c1a")
    .style("font-size", "23px").style("font-weight", "bold")
    .text(kSub);

  // inset legend
  inset.append("circle").attr("cx", 419).attr("cy", 311).attr("r", 6.7)
    .attr("fill", "#008000").attr("stroke", "#000").attr("stroke-width", 1);
  const ilg = inset.append("text").attr("x", 442).attr("y", 317).style("font-size", "15.5px");
  ilg.append("tspan").text(seriesName);
  ilg.append("tspan").attr("dy", -6).style("font-size", "10px").text("o");
  ilg.append("tspan").attr("dy", 6).text("C");
  inset.append("line").attr("x1", 402).attr("x2", 437).attr("y1", 332).attr("y2", 332)
    .attr("stroke", "#ff0000").attr("stroke-width", 3);
  inset.append("text").attr("x", 442).attr("y", 338).style("font-size", "15.5px").text(fitName);
}

window.onload = drawChart;
</script>
</body>
</html>
